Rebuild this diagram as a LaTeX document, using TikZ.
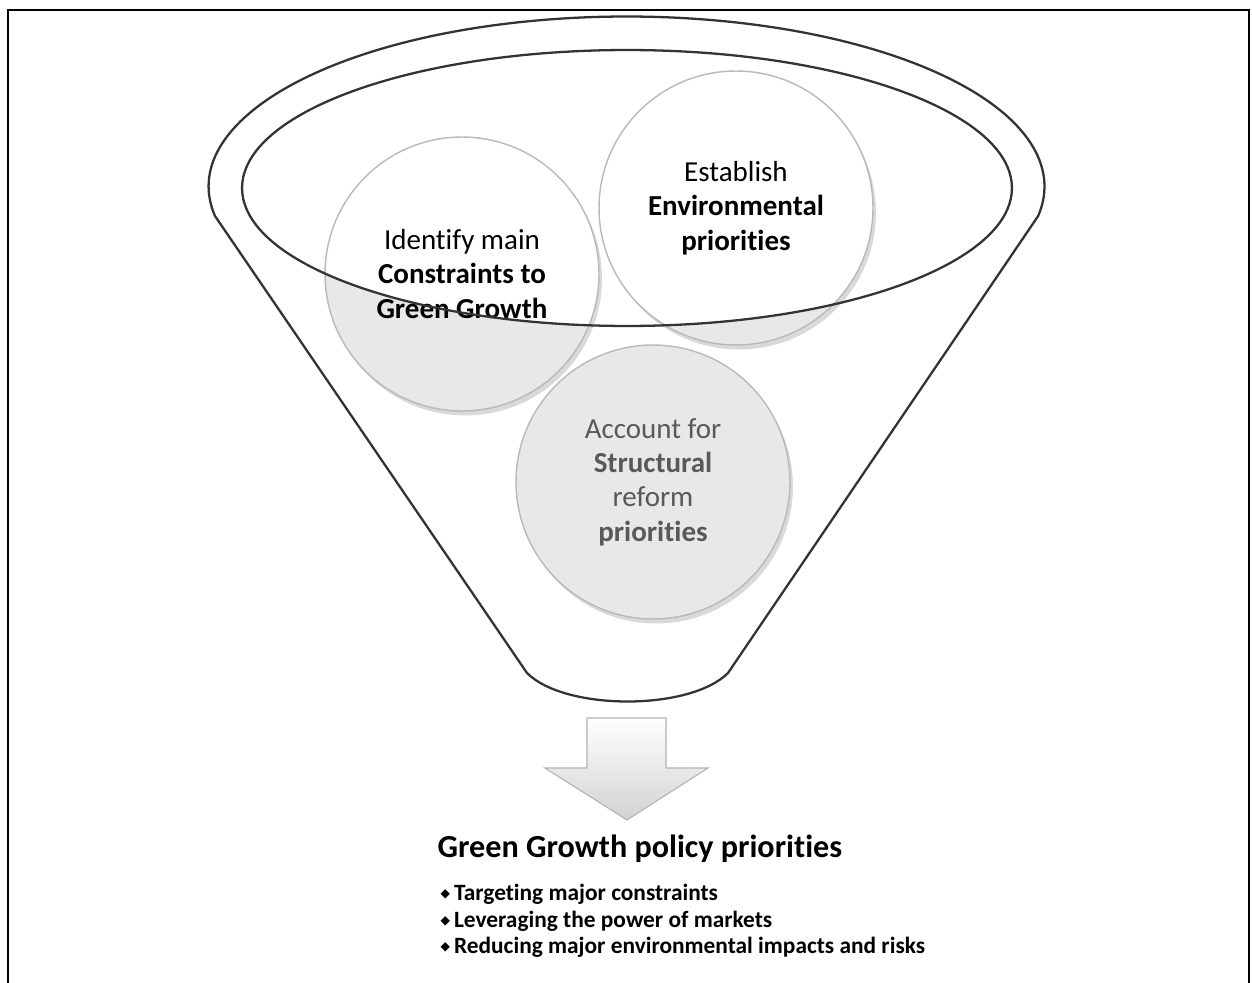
\documentclass[tikz,border=0pt]{standalone}
\usepackage{fontspec}
\setmainfont{Carlito}[Ligatures={NoCommon}]
\newfontfamily\symfont{DejaVu Sans}
\usetikzlibrary{positioning, shadows}

\newcommand{\gbullet}{\raisebox{0.2ex}{\symfont\fontsize{7}{7}\selectfont ◆}\,}

\tikzset{
  rimline/.style={line width=1.3pt, draw=black!80},
  stage/.style={circle, draw=gray!55, fill=gray!18, minimum size=5.48cm, inner sep=0pt, align=center,
    font=\fontsize{16.5}{19.5}\selectfont,
    drop shadow={opacity=0.3, shadow xshift=0.6mm, shadow yshift=-0.9mm},
    path picture={\fill[white] (mouth) ellipse [x radius=7.7cm, y radius=2.76cm];}},
  bulletline/.style={anchor=base west, inner sep=0pt, font=\bfseries\fontsize{13.3}{15}\selectfont},
}

\begin{document}
\begin{tikzpicture}[x=0.02cm, y=-0.02cm, thick]
  \useasboundingbox (0,0) rectangle (1252,983);
  % frame
  \draw[line width=1.6pt] (8,990) -- (8,10) -- (1249,10) -- (1249,990);

  % funnel
  \coordinate (mouth) at (627,188);
  \coordinate (spoutL) at (527,673);
  \coordinate (spoutR) at (728,673);
  \draw[rimline] (spoutL) -- (215,216)
    arc[start angle=190, end angle=-10, x radius=8.36cm, y radius=3.4cm]
    -- (spoutR) .. controls (690,711) and (565,711) .. (spoutL) -- cycle;

  % stages
  \node[stage] (constraints) at (462,274) {Identify main\\\textbf{Constraints to}\\\textbf{Green Growth}};
  \node[stage] (environment) at (736,208) {Establish\\\textbf{Environmental}\\\textbf{priorities}};
  \node[stage, text=black!65] (reform) at (653,482) {Account for\\\textbf{Structural}\\reform\\\textbf{priorities}};

  \draw[rimline] (mouth) ellipse [x radius=7.7cm, y radius=2.76cm];

  % outcome
  \draw[draw=gray!60, line width=0.6pt, top color=white, bottom color=gray!35]
    (587,718) -- (666,718) -- (666,768) -- (708,768) -- (627,820) -- (545,768) -- (587,768) -- cycle;

  \node[anchor=base west, inner sep=0pt, font=\bfseries\fontsize{18.3}{21}\selectfont] (policy) at (437,857) {Green Growth policy priorities};
  \node[bulletline] (target) at (440,900) {\gbullet Targeting major constraints};
  \node[bulletline] (markets) at (440,927) {\gbullet Leveraging the power of markets};
  \node[bulletline] (risks) at (440,953) {\gbullet Reducing major environmental impacts and risks};
\end{tikzpicture}
\end{document}
